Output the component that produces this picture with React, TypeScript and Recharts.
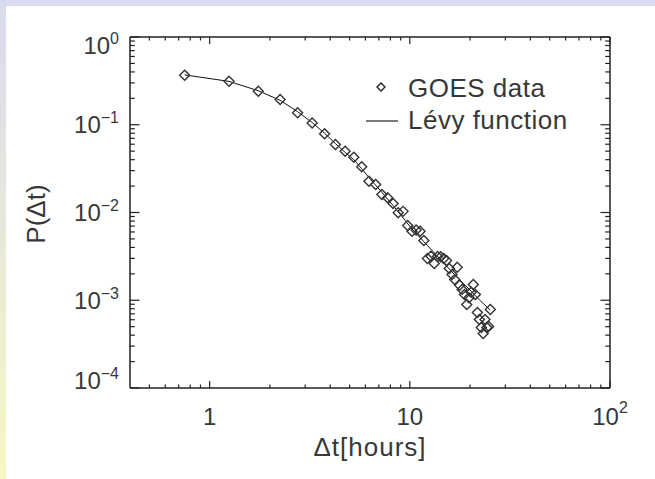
import React from "react";
import { ScatterChart, Scatter, XAxis, YAxis } from "recharts";

// waiting-time bins (hours) and observed probabilities
const hours = [
  0.75, 1.25, 1.75, 2.25, 2.75, 3.25, 3.75, 4.25, 4.75, 5.25, 5.75, 6.25, 6.75,
  7.25, 7.75, 8.25, 8.75, 9.25, 9.75, 10.25, 10.75, 11.25, 11.75, 12.25, 12.75,
  13.25, 13.75, 14.25, 14.75, 15.25, 15.75, 16.25, 16.75, 17.25, 17.75, 18.25,
  18.75, 19.25, 19.75, 20.25, 20.75, 21.25, 21.75, 22.25, 22.75, 23.25, 23.75,
  24.25, 24.75, 25.25,
];
const goesProb = [
  0.367, 0.313, 0.241, 0.194, 0.137, 0.105, 0.0788, 0.0596, 0.05, 0.0427,
  0.0332, 0.0227, 0.0208, 0.016, 0.0147, 0.0127, 0.00992, 0.0103, 0.00711,
  0.00612, 0.00632, 0.00612, 0.0048, 0.00299, 0.00318, 0.00262, 0.00315,
  0.00313, 0.00299, 0.00284, 0.0023, 0.00197, 0.00172, 0.00238, 0.00148,
  0.00133, 0.00116, 0.000894, 0.00107, 0.00123, 0.00151, 0.00116, 0.000725,
  0.000603, 0.000489, 0.000418, 0.000603, 0.000489, 0.000502, 0.000784,
];

// fitted Lévy curve
const levyHours = [
  0.75, 1.25, 1.75, 2.25, 2.75, 3.25, 3.75, 4.25, 4.75, 5.25, 5.75, 6.25, 7.25,
  8.25, 9.25, 10.25, 12.25, 14.25, 16.25, 18.25, 20.25, 22.25, 25.25,
];
const levyProb = [
  0.37, 0.312, 0.244, 0.19, 0.141, 0.106, 0.08, 0.061, 0.0485, 0.04, 0.0315,
  0.025, 0.017, 0.012, 0.0087, 0.0065, 0.0042, 0.0029, 0.0021, 0.0016, 0.00127,
  0.00101, 0.00077,
];

const xMajor = [1, 10, 100];
const xMajorBase = ["1", "10", "10"];
const xMajorExp = ["", "", "2"];
const xMinor = [
  0.5, 0.6, 0.7, 0.8, 0.9, 2, 3, 4, 5, 6, 7, 8, 9, 20, 30, 40, 50, 60, 70, 80, 90,
];
const yMajor = [1, 0.1, 0.01, 0.001, 0.0001];
const yMajorExp = ["0", "\u22121", "\u22122", "\u22123", "\u22124"];
const yMinor = [
  0.9, 0.8, 0.7, 0.6, 0.5, 0.4, 0.3, 0.2,
  0.09, 0.08, 0.07, 0.06, 0.05, 0.04, 0.03, 0.02,
  0.009, 0.008, 0.007, 0.006, 0.005, 0.004, 0.003, 0.002,
  0.0009, 0.0008, 0.0007, 0.0006, 0.0005, 0.0004, 0.0003, 0.0002,
];

const goesData = hours.map((h, i) => ({ x: h, y: goesProb[i] }));
const levyData = levyHours.map((h, i) => ({ x: h, y: levyProb[i] }));

const INK = "#222";
const TEXT = "#383838";
const FONT = '"Liberation Sans", Arial, sans-serif';
const axisLine = { stroke: INK, strokeWidth: 1.5 };

function Diamond({ cx, cy }: any) {
  if (cx == null || cy == null) return <g />;
  const r = 5;
  return (
    <path
      d={`M${cx},${cy - r}L${cx + r},${cy}L${cx},${cy + r}L${cx - r},${cy}Z`}
      fill="none"
      stroke="#333"
      strokeWidth={1.4}
    />
  );
}

const NoMark = () => <g />;

function XTick({ x, y, payload, side }: any) {
  const v = payload.value;
  const i = xMajor.indexOf(v);
  const len = i >= 0 ? 7 : 3.5;
  const dir = side === "bottom" ? -1 : 1;
  return (
    <g>
      <line x1={x} x2={x} y1={y} y2={y + dir * len} stroke={INK} strokeWidth={1.2} />
      {side === "bottom" && i >= 0 && (
        <text x={x} y={y + 37} textAnchor="middle" fontFamily={FONT} fontSize={24} fill={TEXT}>
          <tspan>{xMajorBase[i]}</tspan>
          {xMajorExp[i] && (
            <tspan dy={-12} fontSize={16}>
              {xMajorExp[i]}
            </tspan>
          )}
        </text>
      )}
    </g>
  );
}

function YTick({ x, y, payload, side }: any) {
  const v = payload.value;
  const i = yMajor.indexOf(v);
  const len = i >= 0 ? 9.5 : 4.8;
  const dir = side === "left" ? 1 : -1;
  // end labels sit a little inside the frame
  const shift = i === 0 ? 8 : i === yMajor.length - 1 ? -8 : 0;
  return (
    <g>
      <line x1={x} x2={x + dir * len} y1={y} y2={y} stroke={INK} strokeWidth={1.2} />
      {side === "left" && i >= 0 && (
        <text x={x - 11} y={y + 8.5 + shift} textAnchor="end" fontFamily={FONT} fontSize={24} fill={TEXT}>
          <tspan>10</tspan>
          <tspan dy={-10} fontSize={16}>
            {yMajorExp[i]}
          </tspan>
        </text>
      )}
    </g>
  );
}

export default function App() {
  const xTicks = [...xMinor, ...xMajor];
  const yTicks = [...yMinor, ...yMajor];
  return (
    <div style={{ position: "absolute", left: 0, top: 0, width: 655, height: 479, background: "#fff", overflow: "hidden" }}>
      <div style={{ position: "absolute", left: 0, top: 0, width: 655, height: 6, background: "#dadaf0" }} />
      <div style={{ position: "absolute", left: 0, top: 0, width: 6, height: 479, background: "linear-gradient(#dadaf0, #f7f7c2)" }} />
      <div style={{ position: "absolute", left: 0, top: 0 }}>
        <ScatterChart width={655} height={479} margin={{ top: 17, right: 25, bottom: 71, left: 110 }}>
          <XAxis
            xAxisId="b"
            dataKey="x"
            type="number"
            scale="log"
            domain={[0.4, 100]}
            allowDataOverflow
            ticks={xTicks}
            interval={0}
            tickSize={0}
            tickMargin={0}
            tickLine={false}
            axisLine={axisLine}
            height={20}
            tick={(p: any) => <XTick {...p} side="bottom" />}
          />
          <XAxis
            xAxisId="t"
            orientation="top"
            dataKey="x"
            type="number"
            scale="log"
            domain={[0.4, 100]}
            allowDataOverflow
            ticks={xTicks}
            interval={0}
            tickSize={0}
            tickMargin={0}
            tickLine={false}
            axisLine={axisLine}
            height={20}
            tick={(p: any) => <XTick {...p} side="top" />}
          />
          <YAxis
            yAxisId="l"
            dataKey="y"
            type="number"
            scale="log"
            domain={[0.0001, 1]}
            allowDataOverflow
            ticks={yTicks}
            interval={0}
            tickSize={0}
            tickMargin={0}
            tickLine={false}
            axisLine={axisLine}
            width={20}
            tick={(p: any) => <YTick {...p} side="left" />}
          />
          <YAxis
            yAxisId="r"
            orientation="right"
            dataKey="y"
            type="number"
            scale="log"
            domain={[0.0001, 1]}
            allowDataOverflow
            ticks={yTicks}
            interval={0}
            tickSize={0}
            tickMargin={0}
            tickLine={false}
            axisLine={axisLine}
            width={20}
            tick={(p: any) => <YTick {...p} side="right" />}
          />
          <Scatter
            name="Lévy function"
            data={levyData}
            xAxisId="t"
            yAxisId="r"
            line={{ stroke: "#111", strokeWidth: 1 }}
            shape={NoMark}
            isAnimationActive={false}
          />
          <Scatter
            name="GOES data"
            data={goesData}
            xAxisId="b"
            yAxisId="l"
            shape={Diamond}
            isAnimationActive={false}
          />
        </ScatterChart>
      </div>
      <svg width={655} height={479} style={{ position: "absolute", left: 0, top: 0, pointerEvents: "none" }}>
        <path d="M381,83L385,87L381,91L377,87Z" fill="none" stroke={INK} strokeWidth={1.4} />
        <text x={408} y={97} fontFamily={FONT} fontSize={26} fill={TEXT} letterSpacing={0.5}>GOES data</text>
        <line x1={366} x2={398} y1={121} y2={121} stroke={INK} strokeWidth={1.2} />
        <text x={408} y={129} fontFamily={FONT} fontSize={26} fill={TEXT} letterSpacing={0.5}>Lévy function</text>
        <text x={370} y={456} textAnchor="middle" fontFamily={FONT} fontSize={26} fill={TEXT} letterSpacing={1}>
          Δt[hours]
        </text>
        <text
          x={45}
          y={214}
          textAnchor="middle"
          fontFamily={FONT}
          fontSize={26}
          fill={TEXT}
          transform="rotate(-90 45 214)"
        >
          P(Δt)
        </text>
      </svg>
    </div>
  );
}
